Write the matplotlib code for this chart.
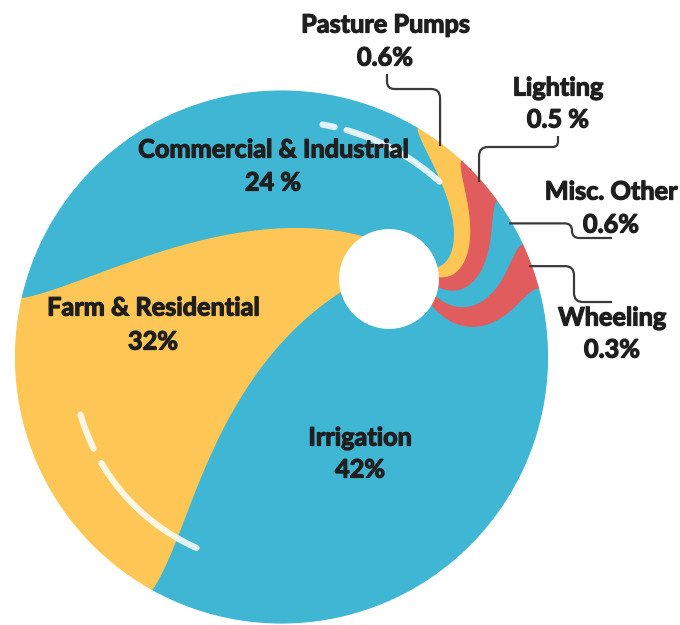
import numpy as np
import matplotlib
matplotlib.use("Agg")
import matplotlib.pyplot as plt
import matplotlib.patheffects as pe
from matplotlib.patches import Polygon, PathPatch
from matplotlib.path import Path

# ---------------- data ----------------
categories = ["Irrigation", "Farm & Residential", "Commercial & Industrial",
              "Pasture Pumps", "Lighting", "Misc. Other", "Wheeling"]
shares = [42, 32, 24, 0.6, 0.5, 0.6, 0.3]
pct_labels = ["42%", "32%", "24 %", "0.6%", "0.5 %", "0.6%", "0.3%"]

# ---------------- style ----------------
BLUE, YELLOW, RED = "#3EB6D4", "#FDC655", "#E15C5C"
slice_colors = [BLUE, YELLOW, BLUE, YELLOW, RED, BLUE, RED]
TXT = "#1f1f1f"
FONT = ["Lato", "DejaVu Sans"]

W, H = 680, 625
fig = plt.figure(figsize=(6.8, 6.25), dpi=100)
ax = fig.add_axes([0, 0, 1, 1])
ax.set_xlim(0, W)
ax.set_ylim(H, 0)
ax.set_aspect("equal")
ax.axis("off")

OUT_C = np.array([281.5, 357.0]); OUT_R = 266.0
HOLE_C = np.array([389.0, 279.0]); HOLE_R = 50.5
START = 15.0      # rim angle (deg, ccw from east) where the first slice starts
SWIRL = -46.0     # rotation of slice edges between the rim and the hole
POW = 1.5
MIN_SHARE = 1.3   # tiny slices are drawn with at least this share of the area
N = 160


def point(t, phi):
    t = np.asarray(t, float)
    ph = np.radians(np.asarray(phi, float))
    cx = HOLE_C[0] + (OUT_C[0] - HOLE_C[0]) * t
    cy = HOLE_C[1] + (OUT_C[1] - HOLE_C[1]) * t
    r = HOLE_R + (OUT_R - HOLE_R) * t
    return np.column_stack([cx + r * np.cos(ph), cy - r * np.sin(ph)])


def edge(beta):
    t = np.linspace(0, 1, N)
    return point(t, beta + SWIRL * (1 - t) ** POW)


def wedge(a, b):
    outer = point(np.ones(N), np.linspace(a, b, N))
    eb = edge(b)[::-1]
    hole = point(np.zeros(N), np.linspace(b + SWIRL, a + SWIRL, N))
    ea = edge(a)
    return np.vstack([outer, eb, hole, ea])


def area(poly):
    x, y = poly[:, 0], poly[:, 1]
    return 0.5 * abs(np.dot(x, np.roll(y, -1)) - np.dot(y, np.roll(x, -1)))


# slice areas proportional to the values (tiny ones floored so they stay visible)
vals = np.array(shares, float)
small = vals < 5
disp = np.where(small, MIN_SHARE, vals / vals[~small].sum() * (100 - MIN_SHARE * small.sum()))
offs = np.linspace(0, 360, 1441)
cum = np.concatenate([[0], np.cumsum([area(wedge(START - offs[k], START - offs[k + 1]))
                                      for k in range(len(offs) - 1)])])
cum = cum / cum[-1] * 100
targets = np.concatenate([[0], np.cumsum(disp)])
edges = START - np.interp(targets, cum, offs)

for i, col in enumerate(slice_colors):
    ax.add_patch(Polygon(wedge(edges[i], edges[i + 1]), closed=True, fc=col, ec=col,
                         lw=0.8, joinstyle="round", zorder=2))


# decorative highlight arcs
def arc(r, a0, a1, lw=4.5):
    p = np.radians(np.linspace(a0, a1, 80))
    ax.plot(OUT_C[0] + r * np.cos(p), OUT_C[1] - r * np.sin(p), color="white",
            alpha=0.85, lw=lw, solid_capstyle="round", zorder=3)

arc(236, 80, 77)
arc(236, 74, 48)
arc(209, 196, 206)
arc(209, 210.5, 246)


# ---------------- labels ----------------
def label(x, y1, y2, name, pct, fs=18.2):
    for y, s in ((y1, name), (y2, pct)):
        ax.text(x, y, s, ha="center", va="center", fontsize=fs, fontweight="bold",
                family=FONT, color=TXT, zorder=5,
                path_effects=[pe.withStroke(linewidth=0.9, foreground=TXT)])

label_pos = [(360, 438, 470), (153, 308, 342), (273, 150, 183),
             (385, 25, 58), (558, 88, 120), (611, 192, 225), (612, 318, 350)]
for (x, y1, y2), name, pct in zip(label_pos, categories, pct_labels):
    label(x, y1, y2, name, pct)


def elbow(pts, rad=9):
    pts = [np.array(p, float) for p in pts]
    verts, codes = [pts[0]], [Path.MOVETO]
    for k in range(1, len(pts) - 1):
        p0, p1, p2 = pts[k - 1], pts[k], pts[k + 1]
        d0 = (p1 - p0) / max(np.linalg.norm(p1 - p0), 1e-9)
        d1 = (p2 - p1) / max(np.linalg.norm(p2 - p1), 1e-9)
        rr = min(rad, np.linalg.norm(p1 - p0) / 2, np.linalg.norm(p2 - p1) / 2)
        verts += [p1 - d0 * rr, p1, p1 + d1 * rr]
        codes += [Path.LINETO, Path.CURVE3, Path.CURVE3]
    verts.append(pts[-1]); codes.append(Path.LINETO)
    ax.add_patch(PathPatch(Path(verts, codes), fc="none", ec="#3a3a3a", lw=1.6, zorder=4))


mids = (edges[:-1] + edges[1:]) / 2
ends = [point([0.975], [m])[0] for m in mids]
xe, ye = ends[3]
elbow([(387, 74), (387, 89), (xe, 89), (xe, ye)])
xe, ye = ends[4]
elbow([(558, 136), (558, 147), (xe, 147), (xe, ye)])
xe, ye = ends[5]
elbow([(612, 238), (572, 238), (572, ye), (xe, ye)])
xe, ye = ends[6]
elbow([(612, 302), (574, 302), (574, ye), (xe, ye)])

fig.savefig("out.png", dpi=100, facecolor="white")
